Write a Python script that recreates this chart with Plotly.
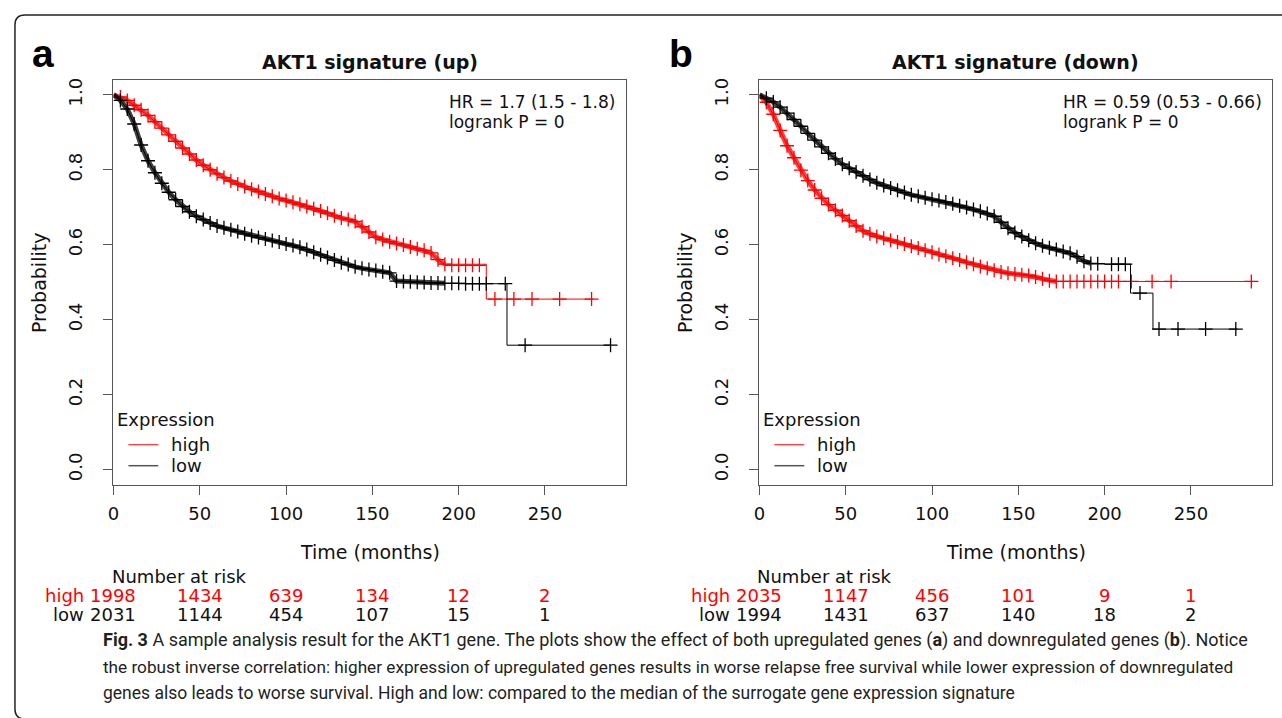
import plotly.graph_objects as go

# ---------------- data ----------------
months_ticks = [0, 50, 100, 150, 200, 250]
prob_ticks = [0.0, 0.2, 0.4, 0.6, 0.8, 1.0]
prob_ticktext = ["0.0", "0.2", "0.4", "0.6", "0.8", "1.0"]

# Panel a : AKT1 signature (up)
a_high_t = [0, 4, 8, 12, 16, 20, 24, 28, 32, 36, 40, 44, 48, 52, 56, 60, 64, 68, 72, 76, 80, 84, 88, 92,
            96, 100, 104, 108, 112, 116, 120, 124, 128, 132, 136, 140, 144, 148, 152, 156, 160, 164, 168,
            172, 176, 180, 184, 188, 192, 216, 278]
a_high_s = [1.000, 0.994, 0.985, 0.972, 0.960, 0.945, 0.928, 0.911, 0.893, 0.876, 0.858, 0.842, 0.826,
            0.812, 0.800, 0.789, 0.779, 0.770, 0.762, 0.755, 0.748, 0.742, 0.735, 0.729, 0.723, 0.718,
            0.713, 0.708, 0.702, 0.696, 0.690, 0.684, 0.677, 0.671, 0.667, 0.662, 0.648, 0.634, 0.620,
            0.614, 0.608, 0.603, 0.599, 0.594, 0.589, 0.585, 0.578, 0.560, 0.548, 0.455, 0.455]
a_high_cens_t = [196, 200, 204, 208, 212, 221, 232, 242.5, 258.5, 277]
a_high_cens_s = [0.545, 0.545, 0.545, 0.545, 0.545, 0.455, 0.455, 0.455, 0.455, 0.455]

a_low_t = [0, 4, 8, 12, 16, 20, 24, 28, 32, 36, 40, 44, 48, 52, 56, 60, 64, 68, 72, 76, 80, 84, 88, 92,
           96, 100, 104, 108, 112, 116, 120, 124, 128, 132, 136, 140, 144, 148, 152, 156, 160, 164, 168,
           172, 176, 180, 184, 188, 192, 204, 228, 288]
a_low_s = [1.000, 0.985, 0.962, 0.922, 0.866, 0.824, 0.792, 0.764, 0.740, 0.720, 0.702, 0.688, 0.676,
           0.667, 0.658, 0.650, 0.645, 0.640, 0.635, 0.629, 0.624, 0.619, 0.615, 0.611, 0.607, 0.602,
           0.598, 0.593, 0.587, 0.580, 0.573, 0.566, 0.559, 0.552, 0.547, 0.541, 0.537, 0.534, 0.531,
           0.528, 0.525, 0.503, 0.502, 0.501, 0.500, 0.499, 0.498, 0.498, 0.497, 0.496, 0.332, 0.332]
a_low_cens_t = [196, 200, 204, 208, 212, 216, 227, 238.5, 288]
a_low_cens_s = [0.497, 0.497, 0.496, 0.496, 0.496, 0.496, 0.496, 0.332, 0.332]

# Panel b : AKT1 signature (down)
b_high_t = [0, 4, 8, 12, 16, 20, 24, 28, 32, 36, 40, 44, 48, 52, 56, 60, 64, 68, 72, 76, 80, 84, 88, 92,
            96, 100, 104, 108, 112, 116, 120, 124, 128, 132, 136, 140, 144, 148, 152, 156, 160, 164, 168,
            172, 287]
b_high_s = [1.000, 0.980, 0.948, 0.905, 0.864, 0.832, 0.799, 0.771, 0.746, 0.724, 0.707, 0.692, 0.678,
            0.664, 0.650, 0.637, 0.629, 0.622, 0.617, 0.612, 0.607, 0.602, 0.596, 0.591, 0.585, 0.580,
            0.574, 0.569, 0.564, 0.559, 0.553, 0.548, 0.542, 0.537, 0.532, 0.527, 0.524, 0.522, 0.520,
            0.518, 0.514, 0.509, 0.504, 0.502, 0.502]
b_high_cens_t = [176, 180, 184, 188, 192, 196, 200, 204, 208, 215.5, 227.5, 238.5, 285]
b_high_cens_s = [0.502] * 13

b_low_t = [0, 4, 8, 12, 16, 20, 24, 28, 32, 36, 40, 44, 48, 52, 56, 60, 64, 68, 72, 76, 80, 84, 88, 92,
           96, 100, 104, 108, 112, 116, 120, 124, 128, 132, 136, 140, 144, 148, 152, 156, 160, 164, 168,
           172, 176, 180, 184, 188, 192, 200, 215, 228, 277]
b_low_s = [1.000, 0.991, 0.981, 0.967, 0.951, 0.934, 0.916, 0.897, 0.879, 0.861, 0.844, 0.829, 0.815,
           0.804, 0.794, 0.784, 0.774, 0.765, 0.758, 0.751, 0.745, 0.739, 0.733, 0.729, 0.725, 0.721,
           0.718, 0.714, 0.709, 0.704, 0.699, 0.694, 0.689, 0.683, 0.676, 0.660, 0.644, 0.632, 0.622,
           0.612, 0.604, 0.597, 0.592, 0.587, 0.582, 0.577, 0.568, 0.556, 0.550, 0.548, 0.471, 0.375, 0.375]
b_low_cens_t = [196, 204, 208, 212, 220.5, 231.5, 242.5, 258.5, 276]
b_low_cens_s = [0.549, 0.548, 0.548, 0.548, 0.471, 0.375, 0.375, 0.375, 0.375]

risk_a_high = ["1998", "1434", "639", "134", "12", "2"]
risk_a_low = ["2031", "1144", "454", "107", "15", "1"]
risk_b_high = ["2035", "1147", "456", "101", "9", "1"]
risk_b_low = ["1994", "1431", "637", "140", "18", "2"]

titles = ["AKT1 signature (up)", "AKT1 signature (down)"]
hr_texts = ["HR = 1.7 (1.5 - 1.8)", "HR = 0.59 (0.53 - 0.66)"]
caption_lines = [
    "<b>Fig. 3</b> A sample analysis result for the AKT1 gene. The plots show the effect of both upregulated genes (<b>a</b>) and downregulated genes (<b>b</b>). Notice",
    "the robust inverse correlation: higher expression of upregulated genes results in worse relapse free survival while lower expression of downregulated",
    "genes also leads to worse survival. High and low: compared to the median of the surrogate gene expression signature",
]
caption_sizes = [18.0, 17.2, 17.5]

# ---------------- layout helpers ----------------
W, H = 1282, 718
RED, BLACK = "#ff0000", "#000000"
FONT = "DejaVu Sans"


def px(x):
    return x / W


def py(y):
    return 1 - y / H


fig = go.Figure()

panels = [
    dict(xa="x", ya="y", left=108, right=623,
         curves=[(a_high_t, a_high_s, a_high_cens_t, a_high_cens_s, RED),
                 (a_low_t, a_low_s, a_low_cens_t, a_low_cens_s, BLACK)],
         risk=(risk_a_high, risk_a_low), letter="a", letter_x=24),
    dict(xa="x2", ya="y2", left=757, right=1272,
         curves=[(b_high_t, b_high_s, b_high_cens_t, b_high_cens_s, RED),
                 (b_low_t, b_low_s, b_low_cens_t, b_low_cens_s, BLACK)],
         risk=(risk_b_high, risk_b_low), letter="b", letter_x=664),
]

BOX_TOP, BOX_BOTTOM = 78, 484

for i, p in enumerate(panels):
    for (t, s, ct, cs, col) in p["curves"]:
        n_dense = len([v for v in t if v <= 192])
        dense_t, dense_s = t[:n_dense], s[:n_dense]
        tail_t, tail_s = t[n_dense - 1:], s[n_dense - 1:]
        common = dict(xaxis=p["xa"], yaxis=p["ya"], showlegend=False, hoverinfo="skip")
        # band of densely overlapping censor marks
        fig.add_trace(go.Scatter(x=dense_t, y=dense_s, mode="lines", opacity=0.75,
                                 line=dict(color=col, width=5), **common))
        fig.add_trace(go.Scatter(x=dense_t, y=dense_s, mode="lines",
                                 line=dict(color=col, width=1), **common))
        fig.add_trace(go.Scatter(x=tail_t, y=tail_s, mode="lines",
                                 line=dict(color=col, width=1, shape="hv"), **common))
        fig.add_trace(go.Scatter(x=dense_t[1:] + ct, y=dense_s[1:] + cs, mode="markers",
                                 marker=dict(symbol="cross-thin", size=10, color=col,
                                             line=dict(color=col, width=1.3)), **common))

axis_common = dict(showgrid=False, zeroline=False, showline=True, mirror=True, linecolor="#555555",
                   linewidth=1, ticks="outside", ticklen=9, tickwidth=1, tickcolor="#555555",
                   tickfont=dict(family=FONT, size=18, color="#111111"))

layout = dict(width=W, height=H, margin=dict(l=0, r=0, t=0, b=0), paper_bgcolor="white",
              plot_bgcolor="white", showlegend=False)
for i, p in enumerate(panels):
    sfx = "" if i == 0 else "2"
    layout["xaxis" + sfx] = dict(axis_common, domain=[px(p["left"]), px(p["right"])], range=[0, 297],
                                 tickvals=months_ticks, anchor="y" + sfx, ticklabelstandoff=4)
    layout["yaxis" + sfx] = dict(axis_common, domain=[py(BOX_BOTTOM), py(BOX_TOP)], range=[-0.04, 1.04],
                                 tickvals=prob_ticks, ticktext=prob_ticktext, tickangle=-90,
                                 anchor="x" + sfx, ticklabelstandoff=14)
fig.update_layout(**layout)

ann = []
shapes = []


def text(x, y, s, size=18, color="#111111", xanchor="left", xref="paper", family=FONT, angle=0):
    ann.append(dict(x=x if xref != "paper" else px(x), y=py(y), xref=xref, yref="paper", text=s,
                    showarrow=False, xanchor=xanchor, yanchor="middle", textangle=angle,
                    font=dict(family=family, size=size, color=color)))


for i, p in enumerate(panels):
    L, R = p["left"], p["right"]
    cx = (L + R) / 2
    xref = p["xa"]
    text(p["letter_x"], 52, "<b>%s</b>" % p["letter"], size=39, color="#000000",
         family="Liberation Sans, Arial, sans-serif")
    text(cx, 60, "<b>%s</b>" % titles[i], size=19, xanchor="center")
    hx = L + 335 if i == 0 else L + 303
    text(hx, 100, hr_texts[i], size=17)
    text(hx, 120, "logrank P = 0", size=17)
    # legend
    text(L + 2, 419, "Expression")
    text(L + 56, 444, "high")
    text(L + 56, 465, "low")
    shapes.append(dict(type="line", xref="paper", yref="paper", x0=px(L + 15), x1=px(L + 45),
                       y0=py(444), y1=py(444), line=dict(color=RED, width=1)))
    shapes.append(dict(type="line", xref="paper", yref="paper", x0=px(L + 15), x1=px(L + 45),
                       y0=py(465), y1=py(465), line=dict(color="#555555", width=1.5)))
    # axis titles
    text(cx, 552, "Time (months)", size=19, xanchor="center")
    text(L - 75, 282, "Probability", size=19, xanchor="center", angle=-90)
    # number at risk
    text(L - 4, 576, "Number at risk")
    text(L - 28, 595, "high", color=RED, xanchor="right")
    text(L - 28, 614, "low", xanchor="right")
    hi, lo = p["risk"]
    for m, vh, vl in zip(months_ticks, hi, lo):
        text(m, 595, vh, color=RED, xanchor="center", xref=xref)
        text(m, 614, vl, xanchor="center", xref=xref)

cap_font = "Roboto, sans-serif"
for k, (line, sz) in enumerate(zip(caption_lines, caption_sizes)):
    text(95, 640 + 26.5 * k, line, size=sz, color="#231f20", family=cap_font)

# rounded outer frame
x0, y0, r = 9, 13, 10
path = "M %f,%f L %f,%f Q %f,%f %f,%f L %f,%f Q %f,%f %f,%f L %f,%f" % (
    px(1300), py(y0), px(x0 + r), py(y0), px(x0), py(y0), px(x0), py(y0 + r),
    px(x0), py(709), px(x0), py(719), px(x0 + r), py(719), px(1300), py(719))
shapes.append(dict(type="path", xref="paper", yref="paper", path=path,
                   line=dict(color="#222222", width=1.5)))

fig.update_layout(annotations=ann, shapes=shapes)
fig.write_html("out.html", config={"displayModeBar": False},
               post_script="document.body.style.margin='0';document.body.style.overflow='hidden';")
